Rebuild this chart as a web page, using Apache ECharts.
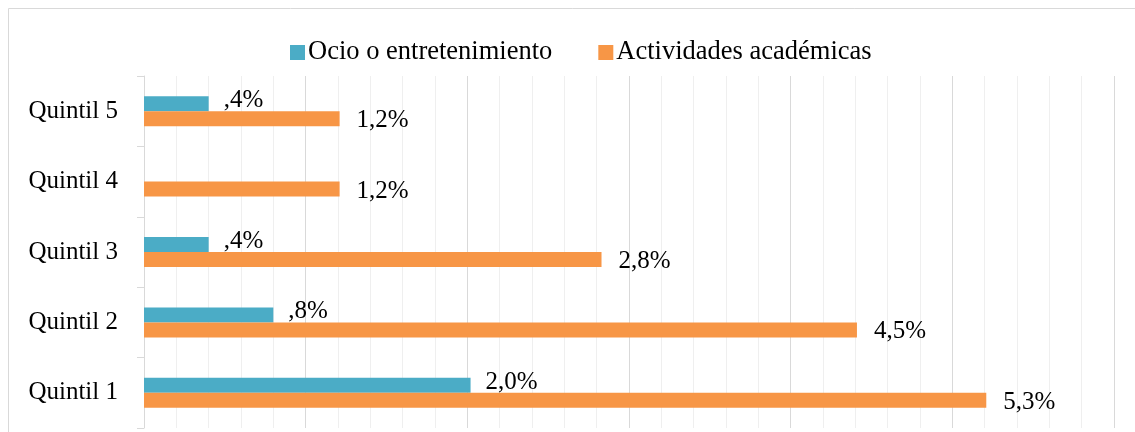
<!DOCTYPE html>
<html>
<head>
<meta charset="utf-8">
<script src="https://cdn.jsdelivr.net/npm/echarts@6/dist/echarts.min.js"></script>
<style>
  html, body { margin: 0; padding: 0; background: #fff; }
  #chart { width: 1135px; height: 432px; }
</style>
</head>
<body>
<div id="chart"></div>
<script>
// categories, bottom to top
var quintiles = ['Quintil 1', 'Quintil 2', 'Quintil 3', 'Quintil 4', 'Quintil 5'];
// bar lengths (percent)
var ocioValues = [2.02, 0.80, 0.40, null, 0.40];
var academicValues = [5.21, 4.41, 2.83, 1.21, 1.21];
// printed data labels
var ocioLabels = ['2,0%', ',8%', ',4%', '', ',4%'];
var academicLabels = ['5,3%', '4,5%', '2,8%', '1,2%', '1,2%'];
var seriesNames = ['Ocio o entretenimiento', 'Actividades académicas'];

var FONT = '"Liberation Serif", "Times New Roman", serif';

var chart = echarts.init(document.getElementById('chart'));
chart.setOption({
  animation: false,
  textStyle: { fontFamily: FONT, color: '#000' },
  graphic: [{
    type: 'rect',
    shape: { x: 8.5, y: 8.5, width: 1200, height: 500 },
    style: { fill: 'none', stroke: '#d9d9d9', lineWidth: 1 },
    silent: true
  }],
  legend: {
    data: seriesNames,
    left: 285,
    top: 34,
    itemWidth: 15,
    itemHeight: 15,
    itemGap: 46,
    icon: 'rect',
    textStyle: { fontFamily: FONT, fontSize: 26.5, color: '#000', padding: [0, 0, 0, -2] }
  },
  grid: { left: 144, right: 21, top: 76, bottom: 4 },
  xAxis: {
    type: 'value',
    min: 0,
    max: 6,
    interval: 1,
    axisLabel: { show: false },
    axisLine: { show: false },
    axisTick: { show: false },
    splitLine: { show: true, lineStyle: { color: '#d9d9d9', width: 1 } },
    minorTick: { show: false, splitNumber: 5 },
    minorSplitLine: { show: true, lineStyle: { color: '#efefef', width: 1 } }
  },
  yAxis: {
    type: 'category',
    data: quintiles,
    axisLine: { show: true, lineStyle: { color: '#d9d9d9', width: 1 } },
    axisTick: { show: true, length: 7, lineStyle: { color: '#d9d9d9' } },
    axisLabel: { fontFamily: FONT, fontSize: 25, color: '#000', margin: 26 },
    splitLine: { show: false }
  },
  series: [{
    name: seriesNames[0],
    type: 'bar',
    data: ocioValues,
    barWidth: 15,
    barGap: '0%',
    itemStyle: { color: '#4BACC6' },
    label: {
      show: true,
      position: 'right',
      distance: 15,
      offset: [0, -3],
      fontFamily: FONT,
      fontSize: 25,
      color: '#000',
      formatter: function (p) { return ocioLabels[p.dataIndex]; }
    }
  }, {
    name: seriesNames[1],
    type: 'bar',
    data: academicValues,
    barWidth: 15,
    barGap: '0%',
    itemStyle: { color: '#F79646' },
    label: {
      show: true,
      position: 'right',
      distance: 17,
      offset: [0, 2],
      fontFamily: FONT,
      fontSize: 25,
      color: '#000',
      formatter: function (p) { return academicLabels[p.dataIndex]; }
    }
  }]
});
</script>
</body>
</html>
